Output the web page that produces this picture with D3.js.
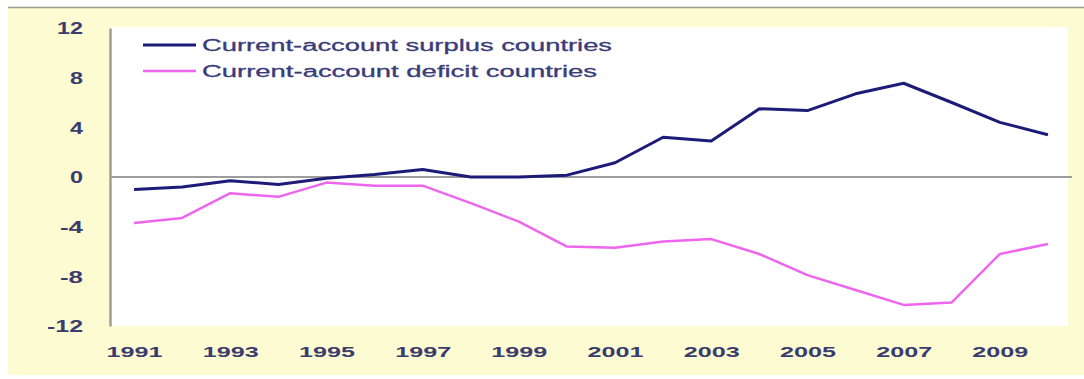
<!DOCTYPE html>
<html>
<head>
<meta charset="utf-8">
<script src="https://cdn.jsdelivr.net/npm/d3@7"></script>
<style>
  html, body { margin: 0; padding: 0; background: #fff; }
  svg { display: block; }
  text { font-family: Arial, "Liberation Sans", sans-serif; }
</style>
</head>
<body>
<svg id="chart" width="1084" height="379"></svg>
<script>
// years on the x axis
const years = d3.range(1991, 2011);
// labelled years
const yearLabels = [1991, 1993, 1995, 1997, 1999, 2001, 2003, 2005, 2007, 2009];
// y ticks
const yTicks = [12, 8, 4, 0, -4, -8, -12];

const seriesNames = ["Current-account surplus countries", "Current-account deficit countries"];
const seriesColors = ["#1c1c78", "#ee66ee"];

// percent of GDP
const surplus = [-1.0, -0.8, -0.3, -0.6, -0.1, 0.2, 0.6, 0.0, 0.0, 0.15,
                 1.15, 3.2, 2.9, 5.5, 5.35, 6.7, 7.55, 6.0, 4.4, 3.4];
const deficit = [-3.7, -3.3, -1.3, -1.6, -0.45, -0.7, -0.7, -2.1, -3.6, -5.6,
                 -5.7, -5.2, -5.0, -6.2, -7.9, -9.1, -10.3, -10.1, -6.2, -5.4];

const svg = d3.select("#chart");
const W = 1084, H = 379;
const plot = { left: 110, right: 1068, top: 28, bottom: 326 };

// outer frame
svg.append("rect").attr("x", 8).attr("y", 7).attr("width", W - 8).attr("height", 368)
    .attr("fill", "#fdfbd2");
svg.append("line").attr("x1", 8).attr("x2", W).attr("y1", 7.5).attr("y2", 7.5)
    .attr("stroke", "#9a9a88").attr("stroke-width", 1.5);
// white plot area
svg.append("rect").attr("x", plot.left).attr("y", plot.top - 1)
    .attr("width", plot.right - plot.left).attr("height", plot.bottom - plot.top + 1)
    .attr("fill", "#ffffff");

const x = d3.scalePoint().domain(years).range([plot.left, plot.right + 4]).padding(0.5);
const y = d3.scaleLinear().domain([-12, 12]).range([plot.bottom, plot.top]);

// y axis (hyphen minus as in the original)
const yAxis = svg.append("g").attr("transform", `translate(${plot.left},0)`)
    .call(d3.axisLeft(y).tickValues(yTicks).tickSize(0).tickPadding(27)
        .tickFormat(d => String(d)));
yAxis.select(".domain").attr("stroke", "#a09f90").attr("stroke-width", 2.5);
yAxis.selectAll("text")
    .attr("fill", "#3a3c6e").attr("font-size", 16).attr("font-weight", "bold")
    .attr("dy", "0.36em")
    .attr("textLength", d => String(Math.abs(d)).length * 13 + (d < 0 ? 10 : 0))
    .attr("lengthAdjust", "spacingAndGlyphs");

// zero line
svg.append("line").attr("x1", plot.left).attr("x2", plot.right + 4)
    .attr("y1", y(0)).attr("y2", y(0))
    .attr("stroke", "#9c9c9c").attr("stroke-width", 2);

// x axis labels
const xAxis = svg.append("g").attr("transform", `translate(0,${plot.bottom})`)
    .call(d3.axisBottom(x).tickValues(yearLabels).tickSize(0).tickPadding(20));
xAxis.select(".domain").remove();
xAxis.selectAll("text")
    .attr("fill", "#3a3c6e").attr("font-size", 15).attr("font-weight", "bold")
    .attr("textLength", 56).attr("lengthAdjust", "spacingAndGlyphs");

// lines
const line = d3.line().x((d, i) => x(years[i])).y(d => y(d));
[surplus, deficit].forEach((vals, k) => {
    svg.append("path").datum(vals)
        .attr("d", line)
        .attr("fill", "none")
        .attr("stroke", seriesColors[k])
        .attr("stroke-width", k === 0 ? 3 : 2.5)
        .attr("stroke-linejoin", "round");
});

// legend
const legend = svg.append("g");
seriesNames.forEach((name, k) => {
    const ly = 45 + k * 26;
    legend.append("line").attr("x1", 143).attr("x2", 196).attr("y1", ly).attr("y2", ly)
        .attr("stroke", seriesColors[k]).attr("stroke-width", k === 0 ? 3 : 2.5);
    legend.append("text").attr("x", 202).attr("y", ly).attr("dy", "0.36em")
        .attr("fill", "#3a3c78").attr("font-size", 16)
        .attr("stroke", "#3a3c78").attr("stroke-width", 0.3)
        .attr("textLength", k === 0 ? 410 : 395).attr("lengthAdjust", "spacingAndGlyphs")
        .text(name);
});
</script>
</body>
</html>
